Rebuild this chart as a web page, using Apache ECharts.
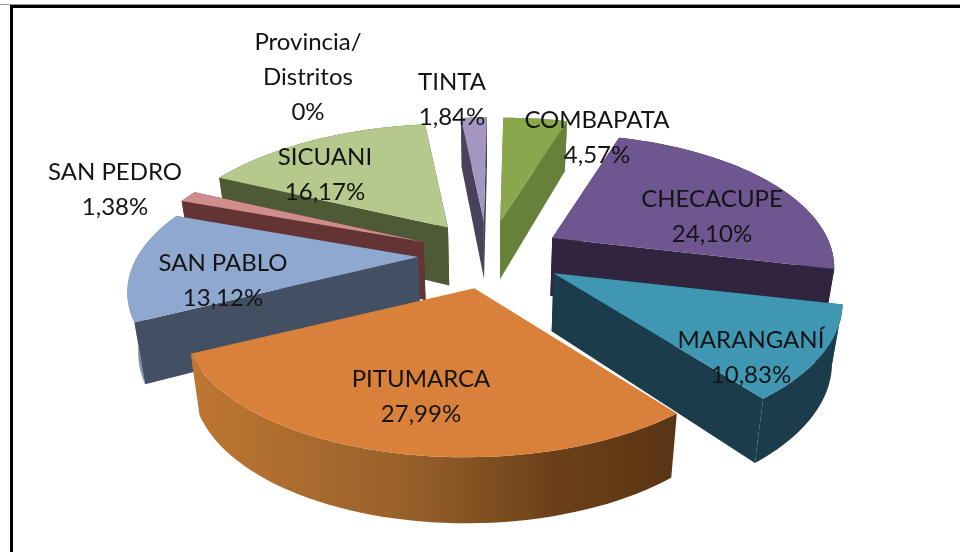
<!DOCTYPE html>
<html>
<head>
<meta charset="utf-8">
<style>
html, body { margin: 0; padding: 0; background: #fff; }
#chart { width: 960px; height: 552px; }
</style>
<script src="https://cdn.jsdelivr.net/npm/echarts@6/dist/echarts.min.js"></script>
</head>
<body>
<div id="chart"></div>
<script>
// clockwise from 12 o'clock
var categories = ["Provincia/\nDistritos", "COMBAPATA", "CHECACUPE", "MARANGANÍ", "PITUMARCA", "SAN PABLO", "SAN PEDRO", "SICUANI", "TINTA"];
var values = [0, 4.57, 24.10, 10.83, 27.99, 13.12, 1.38, 16.17, 1.84];

var topColors = ["#000000", "#8BA74C", "#6F5690", "#3F97B3", "#D9813A", "#8EA8D0", "#CF8D8B", "#B5C98C", "#A596C0"];
var wallColors = ["#000000", "#67813B", "#30243F", "#1A3C4B", "#8A5524", "#434F63", "#643333", "#4E5A36", "#4A425A"];
var arcColors = ["#000000", "#67813B", "#30243F", "#1A3C4B", "#8A5524", "#7B92B8", "#643333", "#4E5A36", "#4A425A"];
var labelPos = [[308, 42], [597, 120], [712, 199], [751, 340], [421, 379], [223, 263], [115, 172], [325, 157], [452, 82]];
var apexNudgeX = [0, 0, 0, 3, 0, 0, 0, 0, -2];
var rimNudgeX = [0, 0, 0, 7, 0, 0, 0, 0, 0];

// projection of the tilted disc
var CX = 490, CY = 255, EX = 72, EY = 34;
var RX = 278, RY = 128.5, PERSP = 0.24;
var FONT = "24px Lato";
var LINE_H = 35;

var total = values.reduce(function (a, b) { return a + b; }, 0);

function edge_point(apex, deg, shift) {
    var t = deg * Math.PI / 180, u = Math.sin(t), v = Math.cos(t), s = 1 + PERSP * v;
    return [apex[0] + RX * u / s - 3 + 6 * v + shift, apex[1] - RY * v / s, 58 - 8 * v];
}

function lower(p) {
    return [CX + (p[0] - CX) * 0.97, p[1] + p[2]];
}

function render_slice(params, api) {
    var i = api.value(0), val = api.value(1), children = [];
    var start = 0;
    for (var k = 0; k < i; k++) start += values[k];
    start = start / total * 360;
    var end = start + val / total * 360;
    var mid = (start + end) / 2 * Math.PI / 180;
    var z = Math.round((1 - Math.cos(mid)) * 100) * 10;

    if (val > 0) {
        var apex = [CX + EX * Math.sin(mid) + apexNudgeX[i], CY - EY * Math.cos(mid), 58];
        var arc = [];
        var n = Math.max(2, Math.ceil((end - start) / 2));
        for (var a = 0; a <= n; a++) arc.push(edge_point(apex, start + (end - start) * a / n, rimNudgeX[i]));

        var tops = [[apex[0], apex[1]]], arcLow = [];
        arc.forEach(function (p) {
            tops.push([p[0], p[1]]);
            arcLow.push(lower(p));
        });

        var fill = arcColors[i];
        if (categories[i] == "PITUMARCA") {
            fill = new echarts.graphic.LinearGradient(0, 0, 1, 0, [
                {offset: 0, color: "#BF7733"},
                {offset: 0.45, color: "#97602A"},
                {offset: 0.75, color: "#6B4019"},
                {offset: 1, color: "#5A3514"}
            ]);
        }
        var wall = tops.slice(1).concat(arcLow.slice().reverse());
        // arc wall goes first so the flat walls stay on top of it
        children.push({type: "polygon", z2: z + 1, silent: true, shape: {points: wall}, style: {fill: fill}});
        [arc[0], arc[arc.length - 1]].forEach(function (p) {
            if (categories[i] == "PITUMARCA") return;
            children.push({
                type: "polygon", z2: z + 2, silent: true,
                shape: {points: [[apex[0], apex[1]], [p[0], p[1]], lower(p), lower(apex)]},
                style: {fill: wallColors[i]}
            });
        });
        children.push({type: "polygon", z2: z + 3, silent: true, shape: {points: tops}, style: {fill: topColors[i]}});
    }

    var pct = val == 0 ? "0%" : val.toFixed(2).replace(".", ",") + "%";
    categories[i].split("\n").concat([pct]).forEach(function (line, j) {
        children.push({
            type: "text", z2: 5000, silent: true,
            style: {
                text: line, x: labelPos[i][0], y: labelPos[i][1] + j * LINE_H,
                font: FONT, fill: "#141414", textAlign: "center", textVerticalAlign: "middle"
            }
        });
    });
    return {type: "group", children: children};
}

var chart = echarts.init(document.getElementById("chart"));
chart.setOption({
    animation: false,
    backgroundColor: "#fff",
    graphic: [
        {type: "rect", shape: {x: 0, y: 4, width: 960, height: 1}, style: {fill: "#999"}, silent: true},
        {type: "rect", shape: {x: 10, y: 5, width: 950, height: 3}, style: {fill: "#000"}, silent: true},
        {type: "rect", shape: {x: 10, y: 5, width: 3, height: 547}, style: {fill: "#000"}, silent: true}
    ],
    series: [{
        type: "custom",
        coordinateSystem: "none",
        renderItem: render_slice,
        data: categories.map(function (c, i) { return [i, values[i]]; })
    }]
});
</script>
</body>
</html>
